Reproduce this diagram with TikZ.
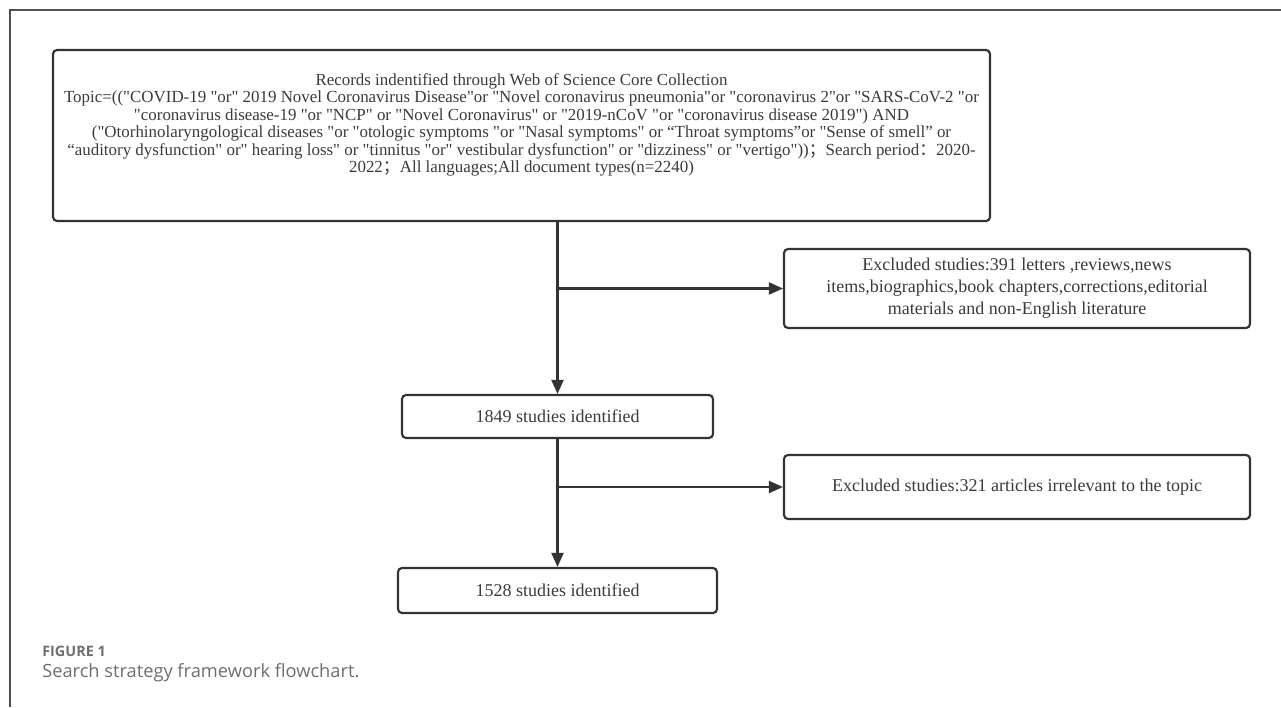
\documentclass[tikz,border=0pt]{standalone}
\usepackage{fontspec}
\setmainfont{Liberation Serif}[Ligatures=TeXOff]
\newfontfamily\cjk{Noto Sans CJK SC}
\newfontfamily\capfont{Open Sans}
\usetikzlibrary{arrows.meta}
\definecolor{txt}{HTML}{3A3A3A}
\definecolor{ln}{HTML}{333333}
\definecolor{frm}{HTML}{505050}
\definecolor{cap}{HTML}{6E6E6E}
\tikzset{
  x=0.75pt, y=-0.75pt,
  boxstyle/.style={draw=ln, line width=1.6pt, rounded corners=3pt, inner sep=0pt, align=center, text=txt, font=\fontsize{13.5}{16.5}\selectfont},
  conn/.style={draw=ln, line width=1.6pt, -{Triangle[length=10.5pt,width=9pt]}},
}
\begin{document}
\begin{tikzpicture}
\useasboundingbox (0,0) rectangle (1281,707);
% frame
\coordinate (fa) at (10,707);
\coordinate (fb) at (10,10);
\coordinate (fc) at (1281,10);
\draw[frm, line width=1.3pt] (fa) -- (fb) -- (fc);
% boxes
\node[boxstyle, minimum width=937*0.75pt, minimum height=171*0.75pt] (main) at (521.5,135.5) {};
\node[text=txt, align=center, inner sep=0pt, font=\fontsize{12.7}{13.1}\selectfont] (maintext) at (521.5,125) {Records indentified through Web of Science Core Collection\\
Topic=(("COVID-19 "or" 2019 Novel Coronavirus Disease"or "Novel coronavirus pneumonia"or "coronavirus 2"or "SARS-CoV-2 "or\\
"coronavirus disease-19 "or "NCP" or "Novel Coronavirus" or "2019-nCoV "or "coronavirus disease 2019") AND\\
("Otorhinolaryngological diseases "or "otologic symptoms "or "Nasal symptoms" or “Throat symptoms”or "Sense of smell” or\\
“auditory dysfunction" or" hearing loss" or "tinnitus "or" vestibular dysfunction" or "dizziness" or "vertigo")){\cjk ；}Search period{\cjk ：}2020-\\
2022{\cjk ；}All languages;All document types(n=2240)};
\node[boxstyle, minimum width=466*0.75pt, minimum height=79*0.75pt] (ex1) at (1017,288.5) {Excluded studies:391 letters ,reviews,news\\items,biographics,book chapters,corrections,editorial\\materials and non-English literature};
\node[boxstyle, minimum width=311*0.75pt, minimum height=43*0.75pt] (s1849) at (557.5,416.5) {1849 studies identified};
\node[boxstyle, minimum width=466*0.75pt, minimum height=64*0.75pt] (ex2) at (1017,487) {Excluded studies:321 articles irrelevant to the topic};
\node[boxstyle, minimum width=319*0.75pt, minimum height=45*0.75pt] (s1528) at (557.5,590.5) {1528 studies identified};
% connectors
\coordinate (m1) at (main.south -| s1849.north);
\coordinate (b1) at (m1 |- ex1.west);
\coordinate (b2) at (s1849.south |- ex2.west);
\draw[conn] (m1) -- (s1849.north);
\draw[conn] (b1) -- (ex1.west);
\draw[conn] (s1849.south) -- (s1528.north);
\draw[conn] (b2) -- (ex2.west);
% caption
\node[anchor=west, inner sep=0pt, text=cap, font=\capfont\bfseries\fontsize{10.8}{12}\selectfont] (figlab) at (42,651) {FIGURE 1};
\node[anchor=west, inner sep=0pt, text=cap, font=\capfont\fontsize{13.7}{16}\selectfont] (figcap) at (42,673) {Search strategy framework flowchart.};
\end{tikzpicture}
\end{document}
